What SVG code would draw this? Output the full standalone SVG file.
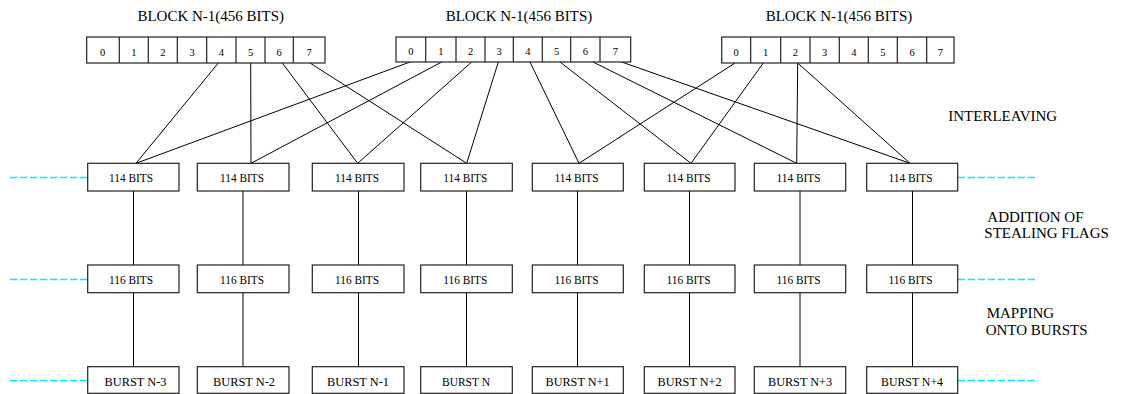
<svg xmlns="http://www.w3.org/2000/svg" width="1123" height="394" viewBox="0 0 1123 394">
  <style>
    .bg { fill: #ffffff; }
    .box { fill: #ffffff; stroke: #222222; stroke-width: 1.2; }
    .cellsep { stroke: #222222; stroke-width: 1.2; }
    .t { font-family: "Liberation Serif", "Times New Roman", serif; fill: #000000; }
    .title { font-size: 15px; text-anchor: middle; }
    .label { font-size: 15px; }
    .cell { font-size: 10.5px; text-anchor: middle; }
    .boxtext { font-size: 13px; text-anchor: middle; }
    .link { stroke: #000000; stroke-width: 1; fill: none; }
    .dash { stroke: #00eeff; stroke-width: 1.5; stroke-dasharray: 7.5 2.5; fill: none; }
  </style>

  <rect class="bg" x="0" y="0" width="1123" height="394"/>

  <!-- connectors: interleaving lines and vertical links -->
  <g id="connectors">
    <!-- left block -->
    <line class="link" x1="218.3" y1="63" x2="136" y2="163.3"/>
    <line class="link" x1="250.7" y1="63" x2="251" y2="163.3"/>
    <line class="link" x1="282.3" y1="63" x2="357.7" y2="163.3"/>
    <line class="link" x1="310" y1="63" x2="466.7" y2="163.3"/>
    <!-- middle block -->
    <line class="link" x1="410" y1="62" x2="136" y2="163.3"/>
    <line class="link" x1="441.7" y1="62" x2="251" y2="163.3"/>
    <line class="link" x1="471.7" y1="62" x2="357.7" y2="163.3"/>
    <line class="link" x1="498.3" y1="62" x2="466.7" y2="163.3"/>
    <line class="link" x1="530" y1="62" x2="579" y2="163.3"/>
    <line class="link" x1="560" y1="62" x2="691" y2="163.3"/>
    <line class="link" x1="593" y1="62" x2="796.7" y2="163.3"/>
    <line class="link" x1="621.7" y1="62" x2="910" y2="163.3"/>
    <!-- right block -->
    <line class="link" x1="735" y1="63" x2="579" y2="163.3"/>
    <line class="link" x1="763.3" y1="63" x2="691" y2="163.3"/>
    <line class="link" x1="797.7" y1="63" x2="796.7" y2="163.3"/>
    <line class="link" x1="797.7" y1="63" x2="910" y2="163.3"/>

    <!-- 114 bits to 116 bits -->
    <line class="link" x1="133.5" y1="191" x2="133.5" y2="265"/>
    <line class="link" x1="243" y1="191" x2="243" y2="265"/>
    <line class="link" x1="358.5" y1="191" x2="358.5" y2="265"/>
    <line class="link" x1="466.5" y1="191" x2="466.5" y2="265"/>
    <line class="link" x1="577.5" y1="191" x2="577.5" y2="265"/>
    <line class="link" x1="689.5" y1="191" x2="689.5" y2="265"/>
    <line class="link" x1="800" y1="191" x2="800" y2="265"/>
    <line class="link" x1="912.5" y1="191" x2="912.5" y2="265"/>

    <!-- 116 bits to bursts -->
    <line class="link" x1="133.5" y1="292.7" x2="133.5" y2="366.7"/>
    <line class="link" x1="243" y1="292.7" x2="243" y2="366.7"/>
    <line class="link" x1="358.5" y1="292.7" x2="358.5" y2="366.7"/>
    <line class="link" x1="466.5" y1="292.7" x2="466.5" y2="366.7"/>
    <line class="link" x1="577.5" y1="292.7" x2="577.5" y2="366.7"/>
    <line class="link" x1="689.5" y1="292.7" x2="689.5" y2="366.7"/>
    <line class="link" x1="800" y1="292.7" x2="800" y2="366.7"/>
    <line class="link" x1="912.5" y1="292.7" x2="912.5" y2="366.7"/>

    <!-- continuation dashes on both sides -->
    <line class="dash" x1="10" y1="177.5" x2="88" y2="177.5"/>
    <line class="dash" x1="10" y1="279.5" x2="88" y2="279.5"/>
    <line class="dash" x1="10" y1="380.5" x2="88" y2="380.5"/>
    <line class="dash" x1="957.7" y1="177.5" x2="1035" y2="177.5"/>
    <line class="dash" x1="957.7" y1="279.5" x2="1035" y2="279.5"/>
    <line class="dash" x1="957.7" y1="380.5" x2="1035" y2="380.5"/>
  </g>

  <!-- source blocks of 8 sub-blocks -->
  <g id="block-left">
    <text class="t title" x="210.8" y="20.7">BLOCK N-1(456 BITS)</text>
    <rect class="box" x="86.7" y="37" width="238.3" height="26"/>
    <line class="cellsep" x1="119.3" y1="37" x2="119.3" y2="63"/>
    <line class="cellsep" x1="148.3" y1="37" x2="148.3" y2="63"/>
    <line class="cellsep" x1="177.3" y1="37" x2="177.3" y2="63"/>
    <line class="cellsep" x1="206.7" y1="37" x2="206.7" y2="63"/>
    <line class="cellsep" x1="236" y1="37" x2="236" y2="63"/>
    <line class="cellsep" x1="265" y1="37" x2="265" y2="63"/>
    <line class="cellsep" x1="293.3" y1="37" x2="293.3" y2="63"/>
    <text class="t cell" x="102.5" y="55.5">0</text>
    <text class="t cell" x="133.8" y="55.5">1</text>
    <text class="t cell" x="162.8" y="55.5">2</text>
    <text class="t cell" x="192" y="55.5">3</text>
    <text class="t cell" x="221.3" y="55.5">4</text>
    <text class="t cell" x="250.5" y="55.5">5</text>
    <text class="t cell" x="279.2" y="55.5">6</text>
    <text class="t cell" x="309.2" y="55.5">7</text>
  </g>

  <g id="block-middle">
    <text class="t title" x="519" y="20.7">BLOCK N-1(456 BITS)</text>
    <rect class="box" x="396" y="37" width="234.7" height="25"/>
    <line class="cellsep" x1="425.7" y1="37" x2="425.7" y2="62"/>
    <line class="cellsep" x1="456" y1="37" x2="456" y2="62"/>
    <line class="cellsep" x1="485" y1="37" x2="485" y2="62"/>
    <line class="cellsep" x1="513.3" y1="37" x2="513.3" y2="62"/>
    <line class="cellsep" x1="542.3" y1="37" x2="542.3" y2="62"/>
    <line class="cellsep" x1="570.7" y1="37" x2="570.7" y2="62"/>
    <line class="cellsep" x1="600" y1="37" x2="600" y2="62"/>
    <text class="t cell" x="410.8" y="54.5">0</text>
    <text class="t cell" x="440.8" y="54.5">1</text>
    <text class="t cell" x="470.5" y="54.5">2</text>
    <text class="t cell" x="499.2" y="54.5">3</text>
    <text class="t cell" x="527.8" y="54.5">4</text>
    <text class="t cell" x="556.5" y="54.5">5</text>
    <text class="t cell" x="585.3" y="54.5">6</text>
    <text class="t cell" x="615.3" y="54.5">7</text>
  </g>

  <g id="block-right">
    <text class="t title" x="839" y="20.7">BLOCK N-1(456 BITS)</text>
    <rect class="box" x="721.7" y="37" width="232.3" height="26"/>
    <line class="cellsep" x1="750.7" y1="37" x2="750.7" y2="63"/>
    <line class="cellsep" x1="780.7" y1="37" x2="780.7" y2="63"/>
    <line class="cellsep" x1="810" y1="37" x2="810" y2="63"/>
    <line class="cellsep" x1="839.3" y1="37" x2="839.3" y2="63"/>
    <line class="cellsep" x1="868.3" y1="37" x2="868.3" y2="63"/>
    <line class="cellsep" x1="897.3" y1="37" x2="897.3" y2="63"/>
    <line class="cellsep" x1="926.7" y1="37" x2="926.7" y2="63"/>
    <text class="t cell" x="736.2" y="55.5">0</text>
    <text class="t cell" x="765.7" y="55.5">1</text>
    <text class="t cell" x="795.3" y="55.5">2</text>
    <text class="t cell" x="824.7" y="55.5">3</text>
    <text class="t cell" x="853.8" y="55.5">4</text>
    <text class="t cell" x="882.8" y="55.5">5</text>
    <text class="t cell" x="912" y="55.5">6</text>
    <text class="t cell" x="940.3" y="55.5">7</text>
  </g>

  <!-- 114 bit rows -->
  <g id="bits114-1"><rect class="box" x="87.7" y="163.3" width="91.3" height="27.7"/><text class="t boxtext" x="131" y="182.3" textLength="44" lengthAdjust="spacingAndGlyphs">114 BITS</text></g>
  <g id="bits114-2"><rect class="box" x="197.3" y="163.3" width="91.7" height="27.7"/><text class="t boxtext" x="242" y="182.3" textLength="44" lengthAdjust="spacingAndGlyphs">114 BITS</text></g>
  <g id="bits114-3"><rect class="box" x="312.3" y="163.3" width="91.7" height="27.7"/><text class="t boxtext" x="357" y="182.3" textLength="44" lengthAdjust="spacingAndGlyphs">114 BITS</text></g>
  <g id="bits114-4"><rect class="box" x="420.7" y="163.3" width="91.6" height="27.7"/><text class="t boxtext" x="465.3" y="182.3" textLength="44" lengthAdjust="spacingAndGlyphs">114 BITS</text></g>
  <g id="bits114-5"><rect class="box" x="532.3" y="163.3" width="91" height="27.7"/><text class="t boxtext" x="576.5" y="182.3" textLength="44" lengthAdjust="spacingAndGlyphs">114 BITS</text></g>
  <g id="bits114-6"><rect class="box" x="644.3" y="163.3" width="90.7" height="27.7"/><text class="t boxtext" x="688.5" y="182.3" textLength="44" lengthAdjust="spacingAndGlyphs">114 BITS</text></g>
  <g id="bits114-7"><rect class="box" x="754.3" y="163.3" width="91.4" height="27.7"/><text class="t boxtext" x="798.5" y="182.3" textLength="44" lengthAdjust="spacingAndGlyphs">114 BITS</text></g>
  <g id="bits114-8"><rect class="box" x="866.7" y="163.3" width="91" height="27.7"/><text class="t boxtext" x="910.5" y="182.3" textLength="44" lengthAdjust="spacingAndGlyphs">114 BITS</text></g>

  <!-- 116 bit rows -->
  <g id="bits116-1"><rect class="box" x="87.7" y="265" width="91.3" height="27.7"/><text class="t boxtext" x="131" y="283.5" textLength="44" lengthAdjust="spacingAndGlyphs">116 BITS</text></g>
  <g id="bits116-2"><rect class="box" x="197.3" y="265" width="91.7" height="27.7"/><text class="t boxtext" x="242" y="283.5" textLength="44" lengthAdjust="spacingAndGlyphs">116 BITS</text></g>
  <g id="bits116-3"><rect class="box" x="312.3" y="265" width="91.7" height="27.7"/><text class="t boxtext" x="357" y="283.5" textLength="44" lengthAdjust="spacingAndGlyphs">116 BITS</text></g>
  <g id="bits116-4"><rect class="box" x="420.7" y="265" width="91.6" height="27.7"/><text class="t boxtext" x="465.3" y="283.5" textLength="44" lengthAdjust="spacingAndGlyphs">116 BITS</text></g>
  <g id="bits116-5"><rect class="box" x="532.3" y="265" width="91" height="27.7"/><text class="t boxtext" x="576.5" y="283.5" textLength="44" lengthAdjust="spacingAndGlyphs">116 BITS</text></g>
  <g id="bits116-6"><rect class="box" x="644.3" y="265" width="90.7" height="27.7"/><text class="t boxtext" x="688.5" y="283.5" textLength="44" lengthAdjust="spacingAndGlyphs">116 BITS</text></g>
  <g id="bits116-7"><rect class="box" x="754.3" y="265" width="91.4" height="27.7"/><text class="t boxtext" x="798.5" y="283.5" textLength="44" lengthAdjust="spacingAndGlyphs">116 BITS</text></g>
  <g id="bits116-8"><rect class="box" x="866.7" y="265" width="91" height="27.7"/><text class="t boxtext" x="910.5" y="283.5" textLength="44" lengthAdjust="spacingAndGlyphs">116 BITS</text></g>

  <!-- bursts -->
  <g id="burst-n-3"><rect class="box" x="87.7" y="366.7" width="91.3" height="26.6"/><text class="t boxtext" x="135.5" y="385.5" textLength="62" lengthAdjust="spacingAndGlyphs">BURST N-3</text></g>
  <g id="burst-n-2"><rect class="box" x="197.3" y="366.7" width="91.7" height="26.6"/><text class="t boxtext" x="244" y="385.5" textLength="62" lengthAdjust="spacingAndGlyphs">BURST N-2</text></g>
  <g id="burst-n-1"><rect class="box" x="312.3" y="366.7" width="91.7" height="26.6"/><text class="t boxtext" x="358" y="385.5" textLength="62" lengthAdjust="spacingAndGlyphs">BURST N-1</text></g>
  <g id="burst-n"><rect class="box" x="420.7" y="366.7" width="91.6" height="26.6"/><text class="t boxtext" x="466" y="385.5" textLength="48" lengthAdjust="spacingAndGlyphs">BURST N</text></g>
  <g id="burst-n1"><rect class="box" x="532.3" y="366.7" width="91" height="26.6"/><text class="t boxtext" x="577.5" y="385.5" textLength="64" lengthAdjust="spacingAndGlyphs">BURST N+1</text></g>
  <g id="burst-n2"><rect class="box" x="644.3" y="366.7" width="90.7" height="26.6"/><text class="t boxtext" x="689.5" y="385.5" textLength="64" lengthAdjust="spacingAndGlyphs">BURST N+2</text></g>
  <g id="burst-n3"><rect class="box" x="754.3" y="366.7" width="91.4" height="26.6"/><text class="t boxtext" x="800" y="385.5" textLength="64" lengthAdjust="spacingAndGlyphs">BURST N+3</text></g>
  <g id="burst-n4"><rect class="box" x="866.7" y="366.7" width="91" height="26.6"/><text class="t boxtext" x="912" y="385.5" textLength="62" lengthAdjust="spacingAndGlyphs">BURST N+4</text></g>

  <!-- stage labels -->
  <g id="label-interleaving">
    <text class="t label" x="948.3" y="120.5">INTERLEAVING</text>
  </g>
  <g id="label-stealing">
    <text class="t label" x="987.3" y="221.5">ADDITION OF</text>
    <text class="t label" x="984.3" y="237.5">STEALING FLAGS</text>
  </g>
  <g id="label-mapping">
    <text class="t label" x="986.7" y="318">MAPPING</text>
    <text class="t label" x="985.7" y="335">ONTO BURSTS</text>
  </g>
</svg>
